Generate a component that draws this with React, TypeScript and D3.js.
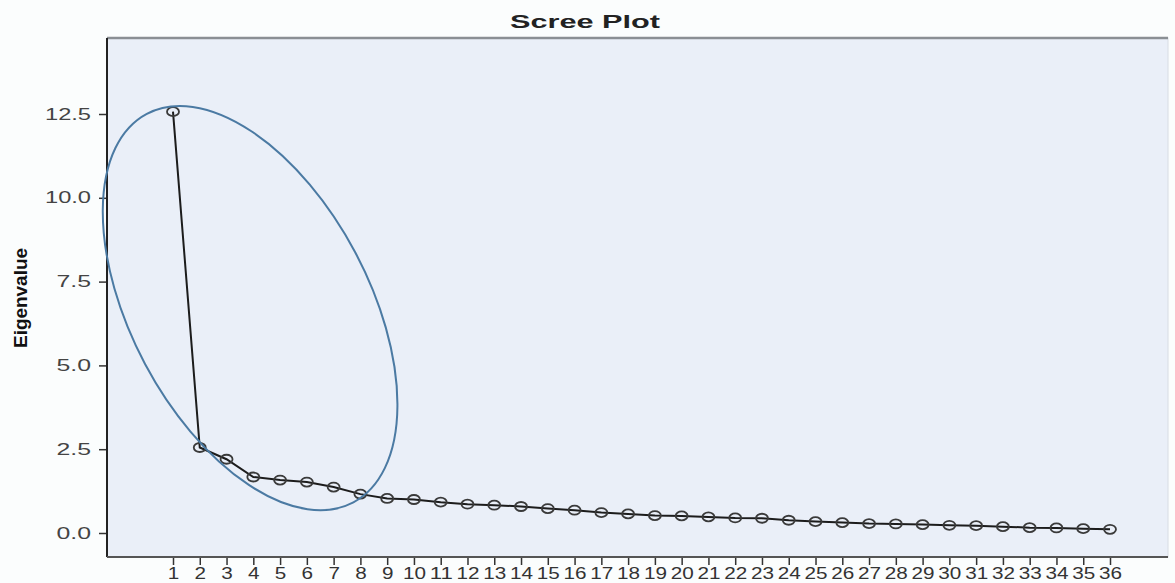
import React, { useEffect, useRef } from 'react';
import * as d3 from 'd3';

// eigenvalues, component 1..36
const components = d3.range(1, 37);
const eigenvalues = [
  12.57, 2.55, 2.2, 1.67, 1.58, 1.52, 1.37, 1.16, 1.03, 1.0,
  0.92, 0.86, 0.83, 0.79, 0.73, 0.68, 0.61, 0.57, 0.52, 0.51,
  0.48, 0.45, 0.44, 0.38, 0.34, 0.31, 0.28, 0.27, 0.25, 0.23,
  0.22, 0.19, 0.16, 0.15, 0.13, 0.11,
];
const yTicks = [0, 2.5, 5, 7.5, 10, 12.5];
// highlight ellipse around the "elbow" (data coords for center)
const ellipseCenter = { x: 3.88, y: 6.71 };

export default function App() {
  const ref = useRef<SVGSVGElement>(null);

  useEffect(() => {
    document.body.style.margin = '0';
    const svg = d3.select(ref.current);
    svg.selectAll('*').remove();

    const width = 1175;
    const height = 583;
    const plot = { left: 107, top: 38, right: 1168, bottom: 557 };

    const x = d3.scaleLinear().domain([1, 36]).range([173, 1110]);
    const y = d3.scaleLinear().domain([0, 12.5]).range([533, 114]);

    svg.append('rect').attr('width', width).attr('height', height).attr('fill', '#fbfdfd');

    svg
      .append('rect')
      .attr('x', plot.left)
      .attr('y', plot.top)
      .attr('width', plot.right - plot.left)
      .attr('height', plot.bottom - plot.top)
      .attr('fill', '#eaeff8')
      .attr('stroke', '#d8dce4')
      .attr('stroke-width', 1);

    // top border
    svg
      .append('line')
      .attr('x1', plot.left)
      .attr('x2', plot.right)
      .attr('y1', plot.top)
      .attr('y2', plot.top)
      .attr('stroke', '#8a8f94')
      .attr('stroke-width', 2.5);

    // title
    svg
      .append('text')
      .attr('x', 585)
      .attr('y', 28)
      .attr('text-anchor', 'middle')
      .attr('font-family', 'Liberation Sans, Arial, sans-serif')
      .attr('font-weight', 'bold')
      .attr('font-size', 19)
      .attr('fill', '#222')
      .attr('textLength', 150)
      .attr('lengthAdjust', 'spacingAndGlyphs')
      .text('Scree Plot');

    // y label
    svg
      .append('text')
      .attr('transform', 'translate(27,298) rotate(-90)')
      .attr('text-anchor', 'middle')
      .attr('font-family', 'Liberation Sans, Arial, sans-serif')
      .attr('font-weight', 'bold')
      .attr('font-size', 19)
      .attr('fill', '#111')
      .attr('textLength', 100)
      .attr('lengthAdjust', 'spacingAndGlyphs')
      .text('Eigenvalue');

    // axes
    const yAxis = svg
      .append('g')
      .attr('transform', `translate(${plot.left},0)`)
      .call(
        d3
          .axisLeft(y)
          .tickValues(yTicks)
          .tickFormat(d3.format('.1f'))
          .tickSize(8)
          .tickPadding(8)
      );
    yAxis.select('.domain').remove();
    yAxis.selectAll('line').attr('stroke', '#333').attr('stroke-width', 1.5);
    yAxis
      .selectAll('text')
      .attr('font-family', 'Liberation Sans, Arial, sans-serif')
      .attr('font-size', 16)
      .attr('fill', '#444')
      .attr('textLength', (d: any) => d3.format('.1f')(d).length * 11.5)
      .attr('lengthAdjust', 'spacingAndGlyphs');

    const xAxis = svg
      .append('g')
      .attr('transform', `translate(0,${plot.bottom})`)
      .call(d3.axisBottom(x).tickValues(components).tickFormat(d3.format('d')).tickSize(8).tickPadding(3));
    xAxis.select('.domain').remove();
    xAxis.selectAll('line').attr('stroke', '#333').attr('stroke-width', 1.5);
    xAxis
      .selectAll('text')
      .attr('font-family', 'Liberation Sans, Arial, sans-serif')
      .attr('font-size', 16)
      .attr('fill', '#333')
      .attr('textLength', (d: any) => String(d).length * 11.5)
      .attr('lengthAdjust', 'spacingAndGlyphs');

    // axis lines
    svg
      .append('line')
      .attr('x1', plot.left)
      .attr('x2', plot.left)
      .attr('y1', plot.top)
      .attr('y2', plot.bottom)
      .attr('stroke', '#222')
      .attr('stroke-width', 2);
    svg
      .append('line')
      .attr('x1', plot.left)
      .attr('x2', plot.right)
      .attr('y1', plot.bottom)
      .attr('y2', plot.bottom)
      .attr('stroke', '#555')
      .attr('stroke-width', 2);

    const data = components.map((c, i) => ({ c, v: eigenvalues[i] }));

    // line
    const line = d3
      .line<{ c: number; v: number }>()
      .x((d) => x(d.c))
      .y((d) => y(d.v));
    svg
      .append('path')
      .datum(data)
      .attr('d', line)
      .attr('fill', 'none')
      .attr('stroke', '#1c1c1c')
      .attr('stroke-width', 2);

    // markers
    svg
      .append('g')
      .selectAll('ellipse')
      .data(data)
      .enter()
      .append('ellipse')
      .attr('cx', (d) => x(d.c))
      .attr('cy', (d) => y(d.v))
      .attr('rx', 6)
      .attr('ry', 4.5)
      .attr('fill', 'none')
      .attr('stroke', '#3a3a3a')
      .attr('stroke-width', 1.8);

    // highlight ellipse
    const cx = x(ellipseCenter.x);
    const cy = y(ellipseCenter.y);
    svg
      .append('ellipse')
      .attr('cx', cx)
      .attr('cy', cy)
      .attr('rx', 220)
      .attr('ry', 119)
      .attr('transform', `rotate(62,${cx},${cy})`)
      .attr('fill', 'none')
      .attr('stroke', '#4b7aa3')
      .attr('stroke-width', 2);
  }, []);

  return <svg ref={ref} width={1175} height={583} style={{ display: 'block' }} />;
}
